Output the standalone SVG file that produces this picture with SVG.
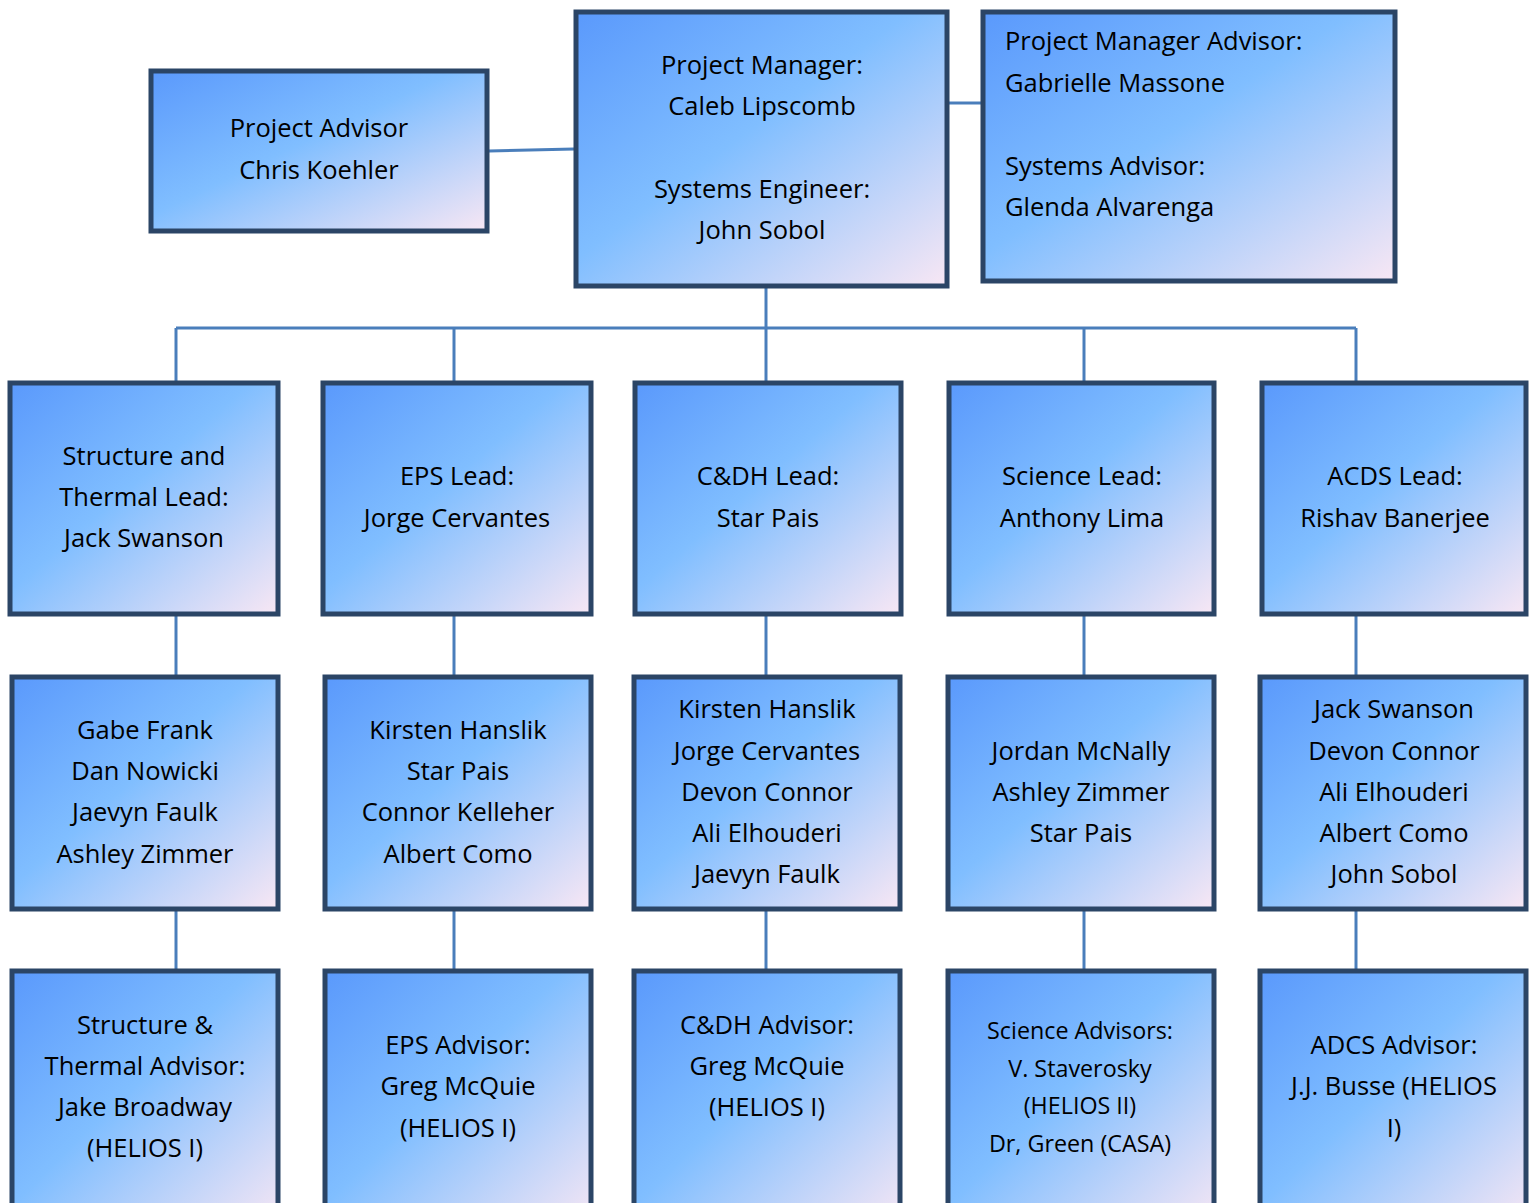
<svg xmlns="http://www.w3.org/2000/svg" width="1538" height="1203" viewBox="0 0 1538 1203">
<defs>
<linearGradient id="g" x1="0" y1="0" x2="1" y2="1">
<stop offset="0" stop-color="#5A99FC"/>
<stop offset="0.45" stop-color="#80BEFF"/>
<stop offset="1" stop-color="#F8E7F4"/>
</linearGradient>
<style>
.box{fill:url(#g);stroke:#2B4566;stroke-width:5}
.c{stroke:#4A7EBB;stroke-width:3;fill:none}
text{font-family:"Open Sans","Noto Sans","DejaVu Sans",sans-serif;font-size:25.5px;fill:#000;text-anchor:middle}
.l{text-anchor:start}
.s{font-size:23.3px}
</style>
</defs>
<rect width="1538" height="1203" fill="#fff"/>
<g id="connectors">
<line class="c" x1="489" y1="151" x2="574" y2="149"/>
<line class="c" x1="949" y1="103" x2="981" y2="103"/>
<line class="c" x1="766" y1="288" x2="766" y2="381"/>
<line class="c" x1="176" y1="328" x2="1356" y2="328"/>
<line class="c" x1="176" y1="328" x2="176" y2="381"/>
<line class="c" x1="454" y1="328" x2="454" y2="381"/>
<line class="c" x1="1084" y1="328" x2="1084" y2="381"/>
<line class="c" x1="1356" y1="328" x2="1356" y2="381"/>
<line class="c" x1="176" y1="616" x2="176" y2="675"/>
<line class="c" x1="454" y1="616" x2="454" y2="675"/>
<line class="c" x1="766" y1="616" x2="766" y2="675"/>
<line class="c" x1="1084" y1="616" x2="1084" y2="675"/>
<line class="c" x1="1356" y1="616" x2="1356" y2="675"/>
<line class="c" x1="176" y1="911" x2="176" y2="969"/>
<line class="c" x1="454" y1="911" x2="454" y2="969"/>
<line class="c" x1="766" y1="911" x2="766" y2="969"/>
<line class="c" x1="1084" y1="911" x2="1084" y2="969"/>
<line class="c" x1="1356" y1="911" x2="1356" y2="969"/>
</g>
<g id="project-advisor">
<rect class="box" x="151" y="71" width="336" height="160"/>
<text x="319" y="137">Project Advisor</text>
<text x="319" y="179">Chris Koehler</text>
</g>
<g id="project-manager">
<rect class="box" x="576" y="12" width="371" height="274"/>
<text x="762" y="74">Project Manager:</text>
<text x="762" y="115">Caleb Lipscomb</text>
<text x="762" y="198">Systems Engineer:</text>
<text x="762" y="239">John Sobol</text>
</g>
<g id="pm-advisor">
<rect class="box" x="983" y="12" width="412" height="269"/>
<text class="l" x="1005" y="50">Project Manager Advisor:</text>
<text class="l" x="1005" y="92">Gabrielle Massone</text>
<text class="l" x="1005" y="175">Systems Advisor:</text>
<text class="l" x="1005" y="216">Glenda Alvarenga</text>
</g>
<g id="st-lead">
<rect class="box" x="10" y="383" width="268" height="231"/>
<text x="144" y="465">Structure and</text>
<text x="144" y="506">Thermal Lead:</text>
<text x="144" y="547">Jack Swanson</text>
</g>
<g id="eps-lead">
<rect class="box" x="323" y="383" width="268" height="231"/>
<text x="457" y="485">EPS Lead:</text>
<text x="457" y="527">Jorge Cervantes</text>
</g>
<g id="cdh-lead">
<rect class="box" x="635" y="383" width="266" height="231"/>
<text x="768" y="485">C&amp;DH Lead:</text>
<text x="768" y="527">Star Pais</text>
</g>
<g id="science-lead">
<rect class="box" x="949" y="383" width="265" height="231"/>
<text x="1082" y="485">Science Lead:</text>
<text x="1082" y="527">Anthony Lima</text>
</g>
<g id="acds-lead">
<rect class="box" x="1262" y="383" width="264" height="231"/>
<text x="1395" y="485">ACDS Lead:</text>
<text x="1395" y="527">Rishav Banerjee</text>
</g>
<g id="st-team">
<rect class="box" x="12" y="677" width="266" height="232"/>
<text x="145" y="739">Gabe Frank</text>
<text x="145" y="780">Dan Nowicki</text>
<text x="145" y="821">Jaevyn Faulk</text>
<text x="145" y="863">Ashley Zimmer</text>
</g>
<g id="eps-team">
<rect class="box" x="325" y="677" width="266" height="232"/>
<text x="458" y="739">Kirsten Hanslik</text>
<text x="458" y="780">Star Pais</text>
<text x="458" y="821">Connor Kelleher</text>
<text x="458" y="863">Albert Como</text>
</g>
<g id="cdh-team">
<rect class="box" x="634" y="677" width="266" height="232"/>
<text x="767" y="718">Kirsten Hanslik</text>
<text x="767" y="760">Jorge Cervantes</text>
<text x="767" y="801">Devon Connor</text>
<text x="767" y="842">Ali Elhouderi</text>
<text x="767" y="883">Jaevyn Faulk</text>
</g>
<g id="science-team">
<rect class="box" x="948" y="677" width="266" height="232"/>
<text x="1081" y="760">Jordan McNally</text>
<text x="1081" y="801">Ashley Zimmer</text>
<text x="1081" y="842">Star Pais</text>
</g>
<g id="acds-team">
<rect class="box" x="1260" y="677" width="266" height="232"/>
<text x="1394" y="718">Jack Swanson</text>
<text x="1394" y="760">Devon Connor</text>
<text x="1394" y="801">Ali Elhouderi</text>
<text x="1394" y="842">Albert Como</text>
<text x="1394" y="883">John Sobol</text>
</g>
<g id="st-advisor">
<rect class="box" x="12" y="971" width="266" height="260"/>
<text x="145" y="1034">Structure &amp;</text>
<text x="145" y="1075">Thermal Advisor:</text>
<text x="145" y="1116">Jake Broadway</text>
<text x="145" y="1157">(HELIOS I)</text>
</g>
<g id="eps-advisor">
<rect class="box" x="325" y="971" width="266" height="260"/>
<text x="458" y="1054">EPS Advisor:</text>
<text x="458" y="1095">Greg McQuie</text>
<text x="458" y="1137">(HELIOS I)</text>
</g>
<g id="cdh-advisor">
<rect class="box" x="634" y="971" width="266" height="260"/>
<text x="767" y="1034">C&amp;DH Advisor:</text>
<text x="767" y="1075">Greg McQuie</text>
<text x="767" y="1116">(HELIOS I)</text>
</g>
<g id="science-advisors">
<rect class="box" x="948" y="971" width="266" height="260"/>
<text class="s" x="1080" y="1039">Science Advisors:</text>
<text class="s" x="1080" y="1077">V. Staverosky</text>
<text class="s" x="1080" y="1114">(HELIOS II)</text>
<text class="s" x="1080" y="1152">Dr, Green (CASA)</text>
</g>
<g id="adcs-advisor">
<rect class="box" x="1260" y="971" width="266" height="260"/>
<text x="1394" y="1054">ADCS Advisor:</text>
<text x="1394" y="1095">J.J. Busse (HELIOS</text>
<text x="1394" y="1137">I)</text>
</g>
</svg>
